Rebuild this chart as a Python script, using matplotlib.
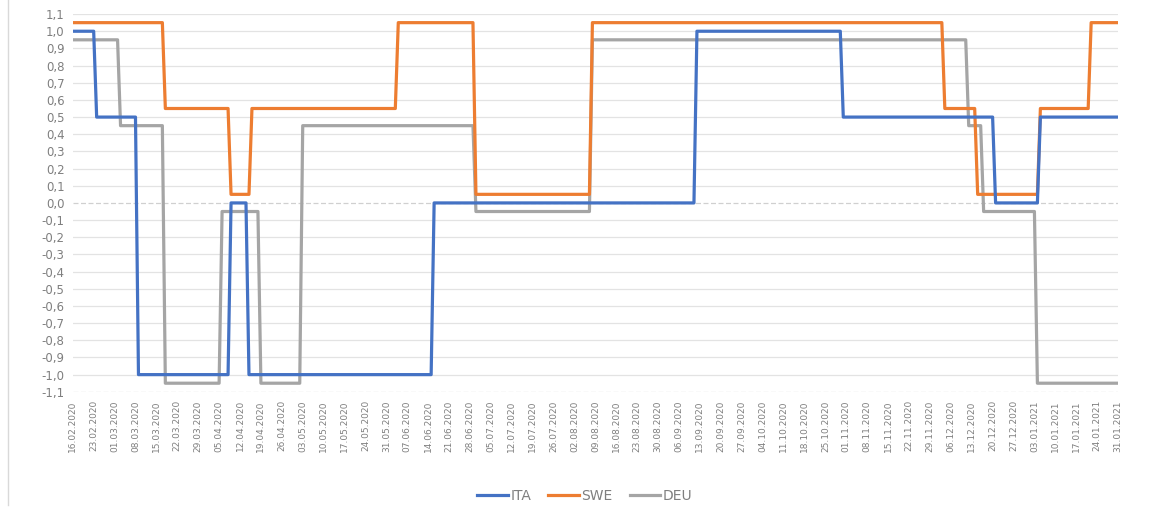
import datetime as dt
import numpy as np
import matplotlib
matplotlib.use('Agg')
import matplotlib.pyplot as plt
from matplotlib.lines import Line2D

# Periodo: giornaliero dal 16.02.2020 al 31.01.2021
start = dt.date(2020, 2, 16)
n_days = 351

# Cambi di livello (giorno dall'inizio, valore)
ita_days = [0, 8, 22, 53, 59, 121, 209, 258, 309, 324]
ita_vals = [1.0, 0.5, -1.0, 0.0, -1.0, 0.0, 1.0, 0.5, 0.0, 0.5]

swe_days = [0, 31, 53, 60, 109, 135, 174, 292, 303, 324, 341]
swe_vals = [1.05, 0.55, 0.05, 0.55, 1.05, 0.05, 1.05, 0.55, 0.05, 0.55, 1.05]

deu_days = [0, 16, 31, 50, 63, 77, 135, 174, 300, 305, 323]
deu_vals = [0.95, 0.45, -1.05, -0.05, -1.05, 0.45, -0.05, 0.95, 0.45, -0.05, -1.05]

y_ticks = [round(-1.1 + 0.1 * i, 1) for i in range(23)]
tick_days = list(range(0, n_days, 7))
tick_labels = [(start + dt.timedelta(days=d)).strftime('%d.%m.%Y') for d in tick_days]


def daily(days, vals):
    lengths = np.diff(days + [n_days])
    return np.repeat(vals, lengths)


x = np.arange(n_days)
ita = daily(ita_days, ita_vals)
swe = daily(swe_days, swe_vals)
deu = daily(deu_days, deu_vals)

fig = plt.figure(figsize=(11.55, 5.21), dpi=100)
ax = fig.add_axes([0.063, 0.248, 0.905, 0.725])

grey_txt = '#7f7f7f'
for v in y_ticks:
    if abs(v) < 1e-9 or v == -1.1:
        ax.axhline(v, color='#d0d0d0', lw=0.9, ls=(0, (4, 2)), zorder=0)
    else:
        ax.axhline(v, color='#e3e3e3', lw=0.9, zorder=0)

ax.plot(x, ita, color='#4472C4', lw=2.3, label='ITA', zorder=3)
ax.plot(x, swe, color='#ED7D31', lw=2.3, label='SWE', zorder=2)
ax.plot(x, deu, color='#A5A5A5', lw=2.3, label='DEU', zorder=1)

ax.set_xlim(0, n_days - 1)
ax.set_ylim(-1.1, 1.1)
ax.set_yticks(y_ticks)
ax.set_yticklabels([f'{v:.1f}'.replace('.', ',') for v in y_ticks], fontsize=8.5, color=grey_txt)
ax.set_xticks(tick_days)
ax.set_xticklabels(tick_labels, rotation=90, fontsize=6.5, color=grey_txt)
ax.tick_params(length=0, pad=6)
for s in ax.spines.values():
    s.set_visible(False)

ax.legend(loc='upper center', bbox_to_anchor=(0.49, -0.225), ncol=3, frameon=False,
          fontsize=10, handlelength=2.2, columnspacing=1.2, handletextpad=0.2,
          labelcolor=grey_txt)

# bordo sinistro del riquadro
fig.add_artist(Line2D([0.007, 0.007], [0.03, 1.0], color='#d9d9d9', lw=1))

fig.savefig('out.png', dpi=100)
